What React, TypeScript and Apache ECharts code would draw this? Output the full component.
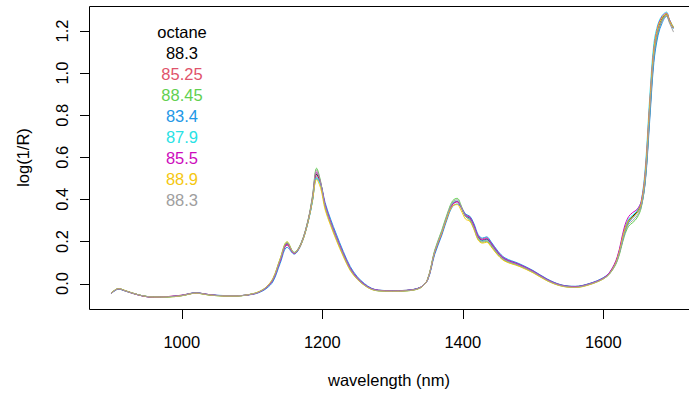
import React, { useEffect, useRef } from "react";
import * as echarts from "echarts";

const wavelengths = [
  900, 910, 920, 940, 960, 980, 1000, 1020, 1040, 1060,
  1080, 1100, 1110, 1120, 1130, 1140, 1150, 1160, 1170, 1180,
  1186, 1192, 1198, 1204, 1212, 1220, 1230, 1240, 1250, 1260,
  1270, 1280, 1300, 1320, 1340, 1350, 1360, 1370, 1380, 1386,
  1392, 1398, 1404, 1410, 1416, 1422, 1428, 1434, 1440, 1450,
  1460, 1480, 1500, 1520, 1540, 1560, 1580, 1600, 1610, 1620,
  1630, 1636, 1642, 1648, 1654, 1660, 1666, 1672, 1678, 1684,
  1690, 1694, 1698, 1700,
];

const octane = ["88.3", "85.25", "88.45", "83.4", "87.9", "85.5", "88.9", "88.3"];
const lineColors = ["#000000", "#DF536B", "#61D04F", "#2297E6", "#28E2E5", "#CD0BBC", "#F5C710", "#9E9E9E"];

const spectrum1 = [
  -0.045, -0.025, -0.035, -0.055, -0.064, -0.063, -0.057, -0.045, -0.054, -0.058,
  -0.058, -0.050, -0.040, -0.020, 0.020, 0.110, 0.190, 0.145, 0.190, 0.300,
  0.400, 0.520, 0.470, 0.370, 0.290, 0.220, 0.140, 0.070, 0.025, -0.005,
  -0.025, -0.033, -0.035, -0.033, -0.018, 0.020, 0.150, 0.240, 0.340, 0.380,
  0.390, 0.360, 0.320, 0.310, 0.270, 0.220, 0.205, 0.210, 0.190, 0.145,
  0.115, 0.090, 0.058, 0.018, -0.008, -0.015, -0.002, 0.025, 0.055, 0.120,
  0.250, 0.300, 0.320, 0.340, 0.380, 0.520, 0.830, 1.100, 1.210, 1.260,
  1.280, 1.250, 1.225, 1.215,
];
const spectrum2 = [
  -0.046, -0.026, -0.036, -0.056, -0.065, -0.062, -0.055, -0.044, -0.053, -0.058,
  -0.058, -0.051, -0.041, -0.022, 0.016, 0.104, 0.182, 0.142, 0.186, 0.296,
  0.395, 0.512, 0.468, 0.372, 0.294, 0.224, 0.144, 0.073, 0.027, -0.004,
  -0.024, -0.032, -0.034, -0.032, -0.018, 0.018, 0.145, 0.236, 0.336, 0.377,
  0.388, 0.362, 0.326, 0.318, 0.278, 0.226, 0.212, 0.218, 0.196, 0.150,
  0.118, 0.092, 0.060, 0.020, -0.007, -0.014, -0.001, 0.026, 0.054, 0.115,
  0.240, 0.292, 0.315, 0.336, 0.372, 0.500, 0.790, 1.070, 1.195, 1.250,
  1.275, 1.250, 1.225, 1.215,
];
const spectrum3 = [
  -0.044, -0.024, -0.034, -0.055, -0.064, -0.064, -0.058, -0.046, -0.055, -0.059,
  -0.059, -0.050, -0.039, -0.018, 0.024, 0.116, 0.198, 0.148, 0.194, 0.306,
  0.415, 0.548, 0.480, 0.365, 0.283, 0.213, 0.134, 0.065, 0.021, -0.008,
  -0.027, -0.035, -0.037, -0.035, -0.020, 0.022, 0.158, 0.252, 0.352, 0.395,
  0.405, 0.368, 0.318, 0.302, 0.260, 0.210, 0.196, 0.200, 0.180, 0.137,
  0.108, 0.084, 0.053, 0.014, -0.011, -0.018, -0.005, 0.022, 0.050, 0.108,
  0.225, 0.272, 0.290, 0.312, 0.360, 0.500, 0.800, 1.080, 1.200, 1.255,
  1.280, 1.255, 1.230, 1.220,
];
const spectrum4 = [
  -0.047, -0.027, -0.036, -0.056, -0.065, -0.063, -0.056, -0.044, -0.053, -0.057,
  -0.058, -0.052, -0.043, -0.025, 0.010, 0.095, 0.172, 0.140, 0.188, 0.295,
  0.390, 0.500, 0.472, 0.385, 0.305, 0.235, 0.152, 0.080, 0.032, 0.000,
  -0.022, -0.031, -0.034, -0.032, -0.017, 0.016, 0.138, 0.228, 0.328, 0.368,
  0.378, 0.362, 0.330, 0.320, 0.284, 0.232, 0.216, 0.222, 0.200, 0.154,
  0.122, 0.095, 0.062, 0.022, -0.006, -0.013, 0.000, 0.028, 0.057, 0.118,
  0.235, 0.290, 0.312, 0.335, 0.368, 0.490, 0.770, 1.050, 1.180, 1.240,
  1.270, 1.245, 1.220, 1.210,
];
const spectrum5 = [
  -0.045, -0.024, -0.035, -0.055, -0.064, -0.063, -0.057, -0.045, -0.054, -0.058,
  -0.058, -0.050, -0.040, -0.020, 0.019, 0.108, 0.188, 0.144, 0.186, 0.294,
  0.392, 0.505, 0.462, 0.366, 0.288, 0.218, 0.138, 0.068, 0.023, -0.006,
  -0.026, -0.034, -0.036, -0.034, -0.019, 0.020, 0.150, 0.242, 0.342, 0.382,
  0.392, 0.362, 0.320, 0.308, 0.268, 0.218, 0.203, 0.208, 0.188, 0.144,
  0.114, 0.089, 0.057, 0.017, -0.009, -0.016, -0.003, 0.025, 0.056, 0.124,
  0.258, 0.306, 0.326, 0.346, 0.392, 0.560, 0.880, 1.140, 1.235, 1.275,
  1.290, 1.255, 1.225, 1.215,
];
const spectrum6 = [
  -0.046, -0.025, -0.035, -0.056, -0.065, -0.062, -0.056, -0.045, -0.053, -0.058,
  -0.058, -0.051, -0.041, -0.021, 0.018, 0.106, 0.186, 0.143, 0.190, 0.300,
  0.405, 0.530, 0.475, 0.375, 0.292, 0.222, 0.142, 0.072, 0.026, -0.004,
  -0.024, -0.032, -0.035, -0.033, -0.018, 0.019, 0.148, 0.238, 0.338, 0.378,
  0.390, 0.362, 0.324, 0.314, 0.274, 0.224, 0.208, 0.214, 0.193, 0.148,
  0.117, 0.091, 0.059, 0.019, -0.008, -0.015, -0.002, 0.026, 0.058, 0.128,
  0.268, 0.318, 0.338, 0.352, 0.390, 0.540, 0.850, 1.115, 1.225, 1.270,
  1.285, 1.255, 1.225, 1.215,
];
const spectrum7 = [
  -0.044, -0.024, -0.034, -0.055, -0.064, -0.064, -0.058, -0.046, -0.055, -0.059,
  -0.059, -0.049, -0.038, -0.017, 0.026, 0.118, 0.198, 0.146, 0.188, 0.296,
  0.395, 0.495, 0.450, 0.352, 0.275, 0.206, 0.128, 0.061, 0.019, -0.009,
  -0.028, -0.035, -0.037, -0.035, -0.020, 0.021, 0.152, 0.240, 0.336, 0.370,
  0.375, 0.345, 0.306, 0.296, 0.256, 0.206, 0.192, 0.196, 0.176, 0.134,
  0.106, 0.082, 0.051, 0.013, -0.012, -0.019, -0.006, 0.022, 0.052, 0.118,
  0.250, 0.298, 0.316, 0.336, 0.380, 0.530, 0.845, 1.110, 1.220, 1.265,
  1.282, 1.250, 1.225, 1.215,
];
const spectrum8 = [
  -0.045, -0.025, -0.035, -0.055, -0.064, -0.063, -0.057, -0.045, -0.054, -0.058,
  -0.058, -0.050, -0.040, -0.019, 0.022, 0.113, 0.194, 0.147, 0.192, 0.303,
  0.410, 0.540, 0.476, 0.368, 0.286, 0.216, 0.137, 0.067, 0.022, -0.007,
  -0.026, -0.034, -0.036, -0.034, -0.019, 0.021, 0.154, 0.246, 0.346, 0.388,
  0.398, 0.364, 0.318, 0.305, 0.264, 0.214, 0.200, 0.204, 0.184, 0.140,
  0.111, 0.086, 0.055, 0.016, -0.010, -0.017, -0.004, 0.023, 0.051, 0.112,
  0.235, 0.282, 0.300, 0.322, 0.366, 0.505, 0.810, 1.085, 1.205, 1.255,
  1.270, 1.240, 1.210, 1.195,
];

const spectra = [spectrum1, spectrum2, spectrum3, spectrum4, spectrum5, spectrum6, spectrum7, spectrum8];

const xTicks = [1000, 1200, 1400, 1600];
const yTicks = [0.0, 0.2, 0.4, 0.6, 0.8, 1.0, 1.2];

const X_MIN = 868;
const X_MAX_VISIBLE = 1722;
const X_BOX_MAX = 1732;
const Y_MIN = -0.121;
const Y_MAX = 1.319;

const FONT = "'Liberation Sans', Arial, Helvetica, sans-serif";
const FS = 16.5;
const TICK_LEN = 9;

export default function App() {
  const ref = useRef<HTMLDivElement>(null);
  useEffect(() => {
    if (!ref.current) return;
    const chart = echarts.init(ref.current, undefined, { renderer: "svg" });
    const legendTexts: any[] = [
      {
        type: "text",
        x: 182,
        y: 32,
        style: { text: "octane", fill: "#000", font: `${FS}px ${FONT}`, textAlign: "center", textVerticalAlign: "middle" },
      },
    ];
    octane.forEach((o, i) => {
      legendTexts.push({
        type: "text",
        x: 182,
        y: 53 + i * 21,
        style: { text: o, fill: lineColors[i], font: `${FS}px ${FONT}`, textAlign: "center", textVerticalAlign: "middle" },
      });
    });

    const lineSeries = spectra.map((s, i) => ({
      type: "line",
      data: s.map((v, j) => [wavelengths[j], v]),
      showSymbol: false,
      smooth: 0.35,
      lineStyle: { color: lineColors[i], width: 1 },
      silent: true,
    }));

    chart.setOption({
      animation: false,
      backgroundColor: "#ffffff",
      textStyle: { fontFamily: FONT },
      grid: {
        left: 89,
        top: 6,
        right: 0,
        bottom: 84,
        show: false,
      },
      xAxis: {
        type: "value",
        min: X_MIN,
        max: X_MAX_VISIBLE,
        name: "wavelength (nm)",
        nameLocation: "middle",
        nameGap: 62,
        nameTextStyle: { fontSize: FS, color: "#000", fontFamily: FONT },
        axisLine: { show: false, onZero: false },
        axisTick: { show: false },
        axisLabel: {
          fontSize: FS,
          color: "#000",
          margin: 24,
          fontFamily: FONT,
          customValues: xTicks,
          formatter: (v: number) => String(v),
        },
        splitLine: { show: false },
      },
      yAxis: {
        type: "value",
        min: Y_MIN,
        max: Y_MAX,
        name: "log(1/R)",
        nameLocation: "middle",
        nameGap: 58,
        nameTextStyle: { fontSize: FS, color: "#000", fontFamily: FONT },
        axisLine: { show: false, onZero: false },
        axisTick: { show: false },
        axisLabel: {
          fontSize: FS,
          color: "#000",
          margin: 19,
          rotate: 90,
          fontFamily: FONT,
          customValues: yTicks,
          formatter: (v: number) => v.toFixed(1),
        },
        splitLine: { show: false },
      },
      graphic: legendTexts,
      series: lineSeries,
    });

    const extraEls: any[] = [];
    const tl = chart.convertToPixel({ gridIndex: 0 }, [X_MIN, Y_MAX]) as number[];
    const br = chart.convertToPixel({ gridIndex: 0 }, [X_BOX_MAX, Y_MIN]) as number[];
    if (tl && br) {
      const x0 = Math.round(tl[0]) + 0.5;
      const y0 = Math.round(tl[1]) + 0.5;
      const y1 = Math.round(br[1]) + 0.5;
      extraEls.push({
        type: "rect",
        z: 100,
        shape: { x: x0, y: y0, width: br[0] - x0, height: y1 - y0 },
        style: { fill: "none", stroke: "#000", lineWidth: 1 },
      });
    }
    // tick marks as thin filled rects, positioned through the chart's axis scales
    xTicks.forEach((v) => {
      const p = chart.convertToPixel({ gridIndex: 0 }, [v, Y_MIN]) as number[];
      if (!p) return;
      const x = Math.round(p[0]);
      const y = Math.round(p[1]);
      extraEls.push({
        type: "rect",
        z: 100,
        shape: { x: x, y: y, width: 1, height: TICK_LEN + 1 },
        style: { fill: "#000", stroke: "none" },
      });
    });
    yTicks.forEach((v) => {
      const p = chart.convertToPixel({ gridIndex: 0 }, [X_MIN, v]) as number[];
      if (!p) return;
      const x = Math.round(p[0]);
      const y = Math.round(p[1]);
      extraEls.push({
        type: "rect",
        z: 100,
        shape: { x: x - TICK_LEN, y: y, width: TICK_LEN + 1, height: 1 },
        style: { fill: "#000", stroke: "none" },
      });
    });
    chart.setOption({ graphic: [...legendTexts, ...extraEls] });

    return () => chart.dispose();
  }, []);
  return <div ref={ref} style={{ position: "fixed", left: 0, top: 0, width: 689, height: 393 }} />;
}
